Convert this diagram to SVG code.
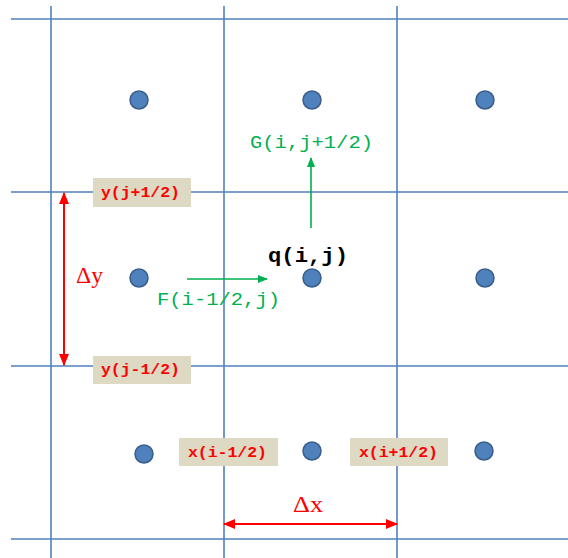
<svg xmlns="http://www.w3.org/2000/svg" width="568" height="558" viewBox="0 0 568 558">
<style>
.grid{stroke:#4F81BD;stroke-width:1.6;fill:none}
.dot{fill:#4F81BD;stroke:#385D8A;stroke-width:1.5}
.lbl{fill:#DDD9C3}
.lt{font-family:"Liberation Mono","Courier New",monospace;font-size:14px;fill:#FF0000;font-weight:bold}
.gt{font-family:"Liberation Mono","Courier New",monospace;font-size:18px;fill:#00B050}
.qt{font-family:"Liberation Mono","Courier New",monospace;font-size:21px;fill:#000;font-weight:bold}
.dt{font-family:"Liberation Serif","Times New Roman",serif;font-size:24px;fill:#FF0000}
.ga{stroke:#00B050;stroke-width:1.6;fill:none}
.ra{stroke:#FF0000;stroke-width:2;fill:none}
</style>
<defs>
<marker id="gh" markerWidth="10" markerHeight="10" refX="9" refY="5" orient="auto" markerUnits="userSpaceOnUse"><path d="M0,1 L10,5 L0,9 Z" fill="#00B050"/></marker>
<marker id="rh" markerWidth="12" markerHeight="12" refX="11" refY="6" orient="auto-start-reverse" markerUnits="userSpaceOnUse"><path d="M0,1 L12,6 L0,11 Z" fill="#FF0000"/></marker>
</defs>
<rect width="568" height="558" fill="#FFFFFF"/>
<g id="grid">
<line class="grid" x1="11" y1="19" x2="568" y2="19"/>
<line class="grid" x1="11" y1="192" x2="568" y2="192"/>
<line class="grid" x1="11" y1="366" x2="568" y2="366"/>
<line class="grid" x1="11" y1="539" x2="568" y2="539"/>
<line class="grid" x1="51" y1="6" x2="51" y2="558"/>
<line class="grid" x1="224" y1="6" x2="224" y2="558"/>
<line class="grid" x1="397" y1="6" x2="397" y2="558"/>
</g>
<g id="dots">
<circle class="dot" cx="139" cy="100" r="9"/>
<circle class="dot" cx="312" cy="100" r="9"/>
<circle class="dot" cx="485" cy="100" r="9"/>
<circle class="dot" cx="139" cy="278" r="9"/>
<circle class="dot" cx="312" cy="278" r="9"/>
<circle class="dot" cx="485" cy="278" r="9"/>
<circle class="dot" cx="144" cy="454" r="9"/>
<circle class="dot" cx="312" cy="451" r="9"/>
<circle class="dot" cx="484" cy="451" r="9"/>
</g>
<g id="label-yjp">
<rect class="lbl" x="93" y="178" width="98" height="29"/>
<text class="lt" x="101" y="197" textLength="79" lengthAdjust="spacingAndGlyphs">y(j+1/2)</text>
</g>
<g id="label-yjm">
<rect class="lbl" x="93" y="356" width="98" height="28"/>
<text class="lt" x="101" y="374" textLength="79" lengthAdjust="spacingAndGlyphs">y(j-1/2)</text>
</g>
<g id="label-xim">
<rect class="lbl" x="179" y="438" width="99" height="28"/>
<text class="lt" x="188" y="457" textLength="79" lengthAdjust="spacingAndGlyphs">x(i-1/2)</text>
</g>
<g id="label-xip">
<rect class="lbl" x="350" y="438" width="98" height="28"/>
<text class="lt" x="359" y="457" textLength="79" lengthAdjust="spacingAndGlyphs">x(i+1/2)</text>
</g>
<g id="connectors">
<line class="ga" x1="311" y1="228" x2="311" y2="158" marker-end="url(#gh)"/>
<line class="ga" x1="187" y1="279" x2="267" y2="279" marker-end="url(#gh)"/>
<line class="ra" x1="64" y1="193" x2="64" y2="365" marker-start="url(#rh)" marker-end="url(#rh)"/>
<line class="ra" x1="224" y1="524" x2="397" y2="524" marker-start="url(#rh)" marker-end="url(#rh)"/>
</g>
<g id="text-G">
<text class="gt" x="250" y="148" textLength="123" lengthAdjust="spacingAndGlyphs">G(i,j+1/2)</text>
</g>
<g id="text-F">
<text class="gt" x="157" y="305" textLength="123" lengthAdjust="spacingAndGlyphs">F(i-1/2,j)</text>
</g>
<g id="text-q">
<text class="qt" x="268" y="262" textLength="80" lengthAdjust="spacingAndGlyphs">q(i,j)</text>
</g>
<g id="text-dy">
<text class="dt" x="76" y="283" textLength="27" lengthAdjust="spacingAndGlyphs">Δy</text>
</g>
<g id="text-dx">
<text class="dt" x="293" y="512" textLength="30" lengthAdjust="spacingAndGlyphs">Δx</text>
</g>
</svg>
